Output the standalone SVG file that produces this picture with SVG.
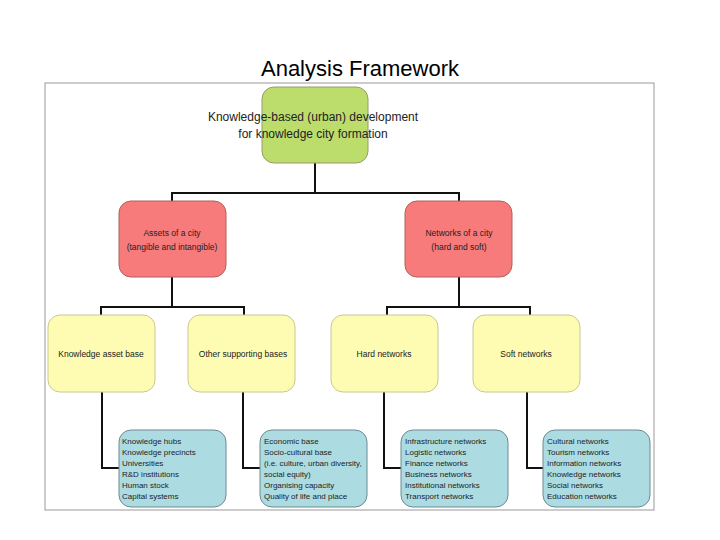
<svg xmlns="http://www.w3.org/2000/svg" width="720" height="540" viewBox="0 0 720 540">
<style>
text{font-family:"Liberation Sans",Arial,sans-serif;fill:#222}
.g{fill:#bcdc6c;stroke:#9a9a6a;stroke-width:1}
.r{fill:#f77b7b;stroke:#b06060;stroke-width:1}
.y{fill:#fdfcb2;stroke:#c8c890;stroke-width:1}
.b{fill:#acdce2;stroke:#6a8a90;stroke-width:1}
.c{fill:none;stroke:#111;stroke-width:2}
.m{font-size:12px;text-anchor:middle}
.s{font-size:8.5px;text-anchor:middle}
.l{font-size:8px}
</style>
<rect width="720" height="540" fill="#fff"/>
<text x="360" y="76" font-size="22" text-anchor="middle" style="fill:#000">Analysis Framework</text>
<rect x="45" y="83" width="609" height="427" fill="#fff" stroke="#999" stroke-width="1"/>
<g id="connectors">
<path class="c" d="M315 163V193M172 201V193H459V201M172 277V307M101 315V307H244V315M459 277V307M387 315V307H530V315"/>
<path class="c" d="M102 392V468H119M243 392V468H260M384 392V468H401M527 392V468H543"/>
</g>
<g id="n-root"><rect class="g" x="262" y="87" width="106" height="76" rx="12"/>
<text class="m" x="313" y="121">Knowledge-based (urban) development</text>
<text class="m" x="313" y="138">for knowledge city formation</text></g>
<g id="n-assets"><rect class="r" x="119" y="201" width="107" height="76" rx="12"/>
<text class="s" x="172" y="236" font-size="11">Assets of a city</text>
<text class="s" x="172" y="250" font-size="11">(tangible and intangible)</text></g>
<g id="n-networks"><rect class="r" x="405" y="201" width="107" height="76" rx="12"/>
<text class="s" x="459" y="236" font-size="11">Networks of a city</text>
<text class="s" x="459" y="250" font-size="11">(hard and soft)</text></g>
<g id="n-kab"><rect class="y" x="48" y="315" width="107" height="77" rx="12"/><text class="s" x="101" y="357">Knowledge asset base</text></g>
<g id="n-osb"><rect class="y" x="188" y="315" width="107" height="77" rx="12"/><text class="s" x="243" y="357">Other supporting bases</text></g>
<g id="n-hard"><rect class="y" x="331" y="315" width="107" height="77" rx="12"/><text class="s" x="384" y="357">Hard networks</text></g>
<g id="n-soft"><rect class="y" x="473" y="315" width="107" height="77" rx="12"/><text class="s" x="526" y="357">Soft networks</text></g>
<g id="n-b1"><rect class="b" x="119" y="430" width="107" height="77" rx="12"/>
<text class="l" x="122" y="444">Knowledge hubs</text><text class="l" x="122" y="455">Knowledge precincts</text><text class="l" x="122" y="466">Universities</text><text class="l" x="122" y="477">R&amp;D institutions</text><text class="l" x="122" y="488">Human stock</text><text class="l" x="122" y="499">Capital systems</text></g>
<g id="n-b2"><rect class="b" x="260" y="430" width="107" height="77" rx="12"/>
<text class="l" x="264" y="444">Economic base</text><text class="l" x="264" y="455">Socio-cultural base</text><text class="l" x="264" y="466">(i.e. culture, urban diversity,</text><text class="l" x="264" y="477">social equity)</text><text class="l" x="264" y="488">Organising capacity</text><text class="l" x="264" y="499">Quality of life and place</text></g>
<g id="n-b3"><rect class="b" x="401" y="430" width="107" height="77" rx="12"/>
<text class="l" x="405" y="444">Infrastructure networks</text><text class="l" x="405" y="455">Logistic networks</text><text class="l" x="405" y="466">Finance networks</text><text class="l" x="405" y="477">Business networks</text><text class="l" x="405" y="488">Institutional networks</text><text class="l" x="405" y="499">Transport networks</text></g>
<g id="n-b4"><rect class="b" x="543" y="430" width="107" height="77" rx="12"/>
<text class="l" x="547" y="444">Cultural networks</text><text class="l" x="547" y="455">Tourism networks</text><text class="l" x="547" y="466">Information networks</text><text class="l" x="547" y="477">Knowledge networks</text><text class="l" x="547" y="488">Social networks</text><text class="l" x="547" y="499">Education networks</text></g>
</svg>
